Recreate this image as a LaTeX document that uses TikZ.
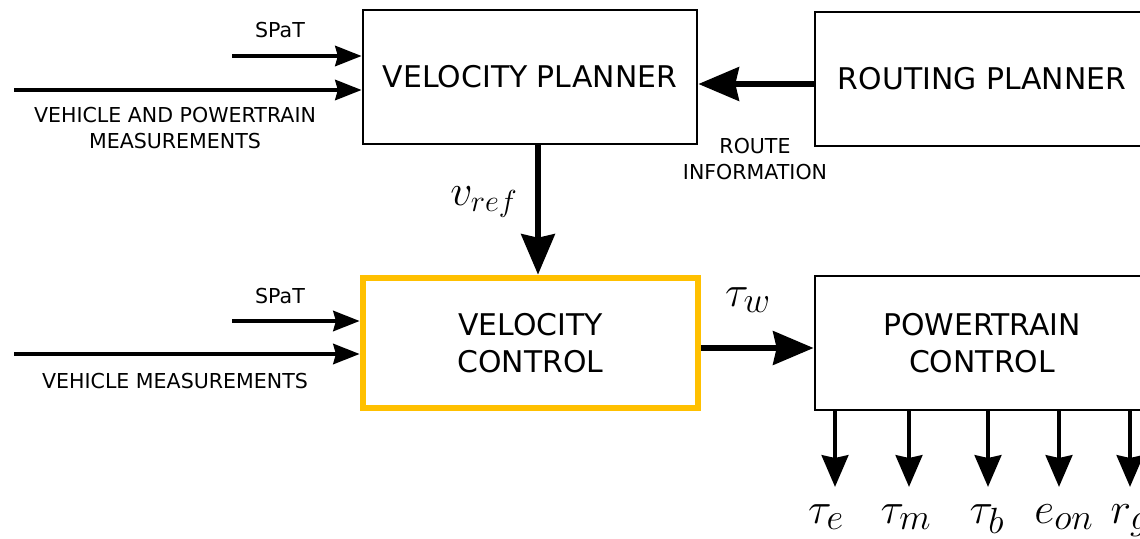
\documentclass[tikz,border=0pt]{standalone}
\usepackage{fontspec}
\setmainfont{DejaVu Sans}
\usetikzlibrary{arrows.meta}
\definecolor{ctrlorange}{RGB}{255,192,0}

\begin{document}
\begin{tikzpicture}[
	block/.style={draw, line width=1.6pt, minimum width=6.68cm, minimum height=2.68cm, align=center, font=\fontsize{17}{21}\selectfont},
	ctrlblock/.style={block, draw=ctrlorange, line width=3.8pt, minimum width=6.7cm, minimum height=2.6cm},
	sig/.style={line width=3.4pt, -{Stealth[length=23pt, width=19pt, inset=2pt]}},
	insig/.style={line width=2.3pt, -{Stealth[length=15pt, width=11.5pt, inset=1.5pt]}},
	outsig/.style={line width=2.8pt, -{Stealth[length=18pt, width=15pt, inset=1.5pt]}},
	lbl/.style={align=center, font=\fontsize{11.7}{15}\selectfont},
	mlbl/.style={font=\fontsize{30}{34}\selectfont}
	]
	\useasboundingbox (0,0) rectangle (22.8,10.76);
	\clip (0,0) rectangle (22.8,10.76);

	% blocks
	\node [block] (vp) at (10.6, 9.22) {VELOCITY PLANNER};
	\node [block] (rp) at (19.64, 9.18) {ROUTING PLANNER};
	\node [ctrlblock] (vc) at (10.61, 3.9) {VELOCITY\\CONTROL};
	\node [block] (pc) at (19.64, 3.9) {POWERTRAIN\\CONTROL};

	% inputs of the planner
	\coordinate (spatA) at (4.64, 9.64);
	\coordinate (measA) at (0.28, 8.96);
	\draw [insig] (spatA) -- (spatA -| vp.west);
	\draw [insig] (measA) -- (measA -| vp.west);
	\node [lbl] (spatAtxt) at (5.6, 10.16) {SPaT};
	\node [lbl] (measAtxt) at (3.5, 8.2) {VEHICLE AND POWERTRAIN\\MEASUREMENTS};

	% route
	\draw [sig] ([yshift=-1mm]rp.west) -- ([yshift=-1mm]rp.west -| vp.east);
	\node [lbl] (routetxt) at (15.1, 7.58) {ROUTE\\INFORMATION};

	% reference velocity
	\draw [sig] ([xshift=1.6mm]vp.south) -- ([xshift=1.6mm]vp.south |- vc.north);
	\node [mlbl, font=\fontsize{27}{31}\selectfont] (vref) at (9.68, 6.72) {$v_{ref}$};

	% inputs of the controller
	\coordinate (spatB) at (4.64, 4.34);
	\coordinate (measB) at (0.28, 3.68);
	\draw [insig] (spatB) -- (spatB -| vc.west);
	\draw [insig] (measB) -- (measB -| vc.west);
	\node [lbl] (spatBtxt) at (5.6, 4.84) {SPaT};
	\node [lbl] (measBtxt) at (3.5, 3.14) {VEHICLE MEASUREMENTS};

	% wheel torque
	\draw [sig] ([yshift=-1mm]vc.east) -- ([yshift=-1mm]vc.east -| pc.west);
	\node [mlbl] (tauw) at (14.96, 4.76) {$\tau_w$};

	% outputs
	\foreach \x/\lx/\name/\txt in {16.7/16.52/te/\tau_e, 18.18/18.12/tm/\tau_m, 19.76/19.74/tb/\tau_b, 21.18/21.28/eon/e_{on}, 22.6/22.6/rg/r_g} {
		\coordinate (\name) at (\x, 1.02);
		\draw [outsig] (\name |- pc.south) -- (\name);
		\node [mlbl, anchor=north] (\name txt) at (\lx, 0.8) {$\txt$};
	}
\end{tikzpicture}
\end{document}
